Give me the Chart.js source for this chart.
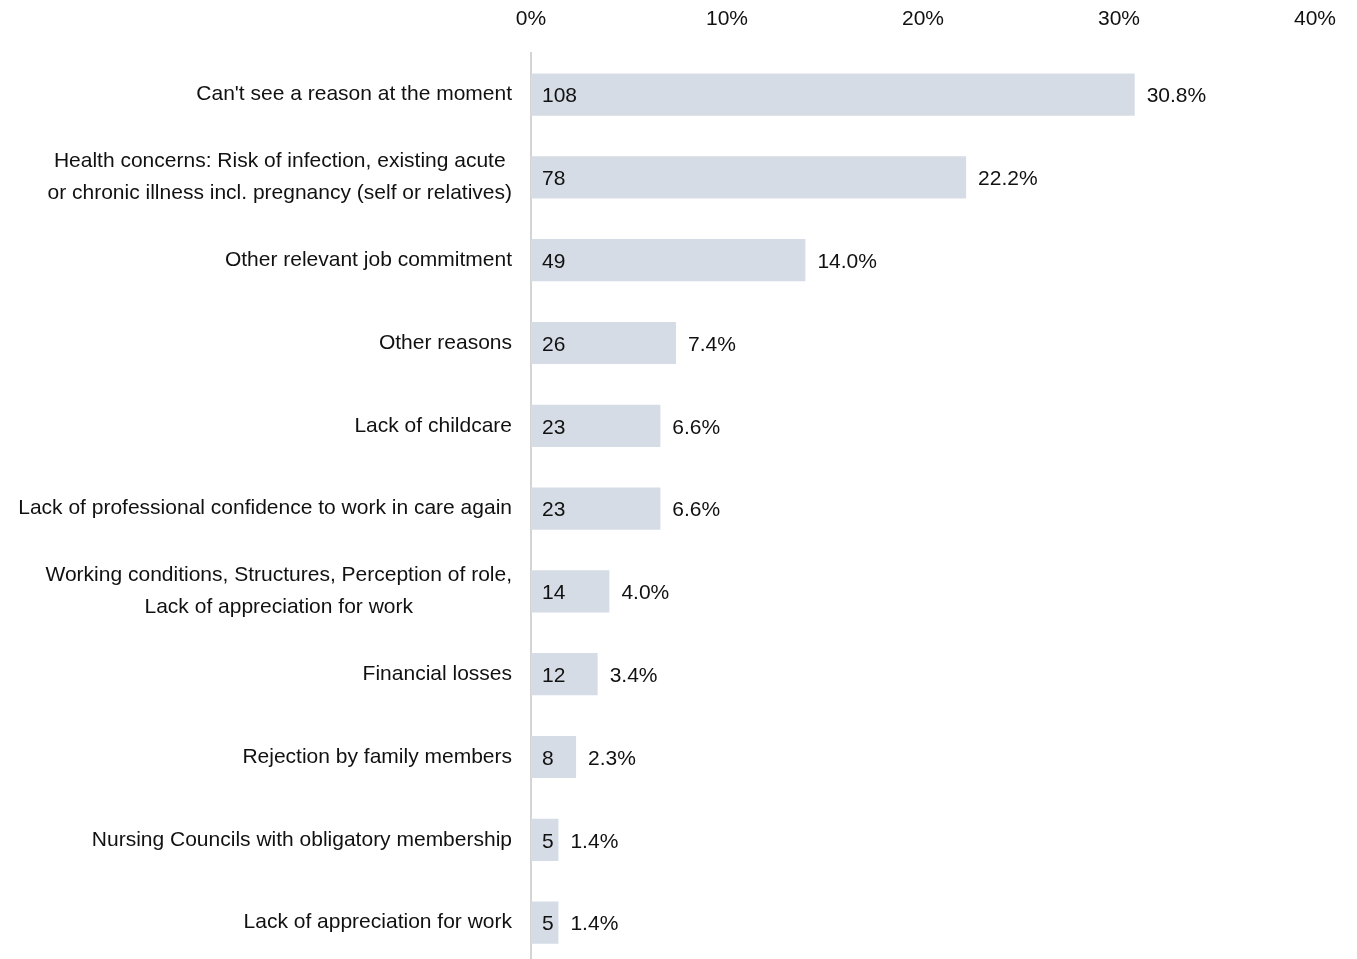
<!DOCTYPE html>
<html>
<head>
<meta charset="utf-8">
<script src="https://cdn.jsdelivr.net/npm/chart.js@4"></script>
<style>
  html, body { margin: 0; padding: 0; background: #fff; overflow: hidden; }
  #wrap { width: 1357px; height: 964px; position: relative; }
</style>
</head>
<body>
<div id="wrap"><canvas id="reasonsChart"></canvas></div>
<script>
var categories = [
    ["Can't see a reason at the moment"],
    ["Health concerns: Risk of infection, existing acute", "or chronic illness incl. pregnancy (self or relatives)"],
    ["Other relevant job commitment"],
    ["Other reasons"],
    ["Lack of childcare"],
    ["Lack of professional confidence to work in care again"],
    ["Working conditions, Structures, Perception of role,", "Lack of appreciation for work"],
    ["Financial losses"],
    ["Rejection by family members"],
    ["Nursing Councils with obligatory membership"],
    ["Lack of appreciation for work"]
];
var counts = [108, 78, 49, 26, 23, 23, 14, 12, 8, 5, 5];
var percents = [30.8, 22.2, 14.0, 7.4, 6.6, 6.6, 4.0, 3.4, 2.3, 1.4, 1.4];
var xTicks = [0, 10, 20, 30, 40];

var FONT = '"Liberation Sans", Arial, Helvetica, sans-serif';

document.addEventListener('DOMContentLoaded', function () {
    // draws category labels left of the axis and value labels on the bars
    var labelPlugin = {
        id: 'labelPlugin',
        afterDatasetsDraw: function (chart) {
            var ctx = chart.ctx;
            var yScale = chart.scales.y;
            var meta = chart.getDatasetMeta(0);
            var lineH = 32;
            ctx.save();
            ctx.font = '21px ' + FONT;
            ctx.fillStyle = '#111';
            ctx.textBaseline = 'middle';

            categories.forEach(function (lines, i) {
                var yc = yScale.getPixelForTick(i);
                var right = chart.chartArea.left - 19;
                if (lines.length === 1) {
                    ctx.textAlign = 'right';
                    ctx.fillText(lines[0], right, yc);
                } else {
                    var widest = Math.max.apply(null, lines.map(function (l) { return ctx.measureText(l).width; }));
                    var cx = right - widest / 2;
                    ctx.textAlign = 'center';
                    lines.forEach(function (l, k) {
                        ctx.fillText(l, cx, yc + (k - (lines.length - 1) / 2) * lineH);
                    });
                }
            });

            meta.data.forEach(function (bar, i) {
                ctx.textAlign = 'left';
                ctx.fillText(String(counts[i]), bar.base + 11, bar.y + 2);
                ctx.fillText(percents[i].toFixed(1) + '%', bar.x + 12, bar.y + 2);
            });
            ctx.restore();
        }
    };

    var ctx1 = document.getElementById('reasonsChart').getContext('2d');
    new Chart(ctx1, {
        type: 'bar',
        data: {
            labels: categories.map(function (c) { return c.join(' '); }),
            datasets: [{
                data: percents,
                backgroundColor: '#d6dce5',
                categoryPercentage: 1.0,
                barPercentage: 0.51
            }]
        },
        options: {
            indexAxis: 'y',
            responsive: true,
            maintainAspectRatio: false,
            animation: false,
            layout: {
                padding: { left: 531, right: 41, top: -14, bottom: 0 }
            },
            plugins: {
                legend: { display: false },
                tooltip: { enabled: false }
            },
            scales: {
                x: {
                    position: 'top',
                    min: 0,
                    max: 40,
                    afterBuildTicks: function (axis) {
                        axis.ticks = xTicks.map(function (v) { return { value: v }; });
                    },
                    grid: { display: false, drawTicks: false },
                    border: { display: false },
                    ticks: {
                        padding: 21,
                        color: '#111',
                        font: { family: FONT, size: 21 },
                        callback: function (v) { return v + '%'; }
                    }
                },
                y: {
                    grid: { display: false, drawTicks: false },
                    border: { display: true, color: '#d4d4d4', width: 2 },
                    ticks: { display: false }
                }
            }
        },
        plugins: [labelPlugin]
    });
});
</script>
</body>
</html>
